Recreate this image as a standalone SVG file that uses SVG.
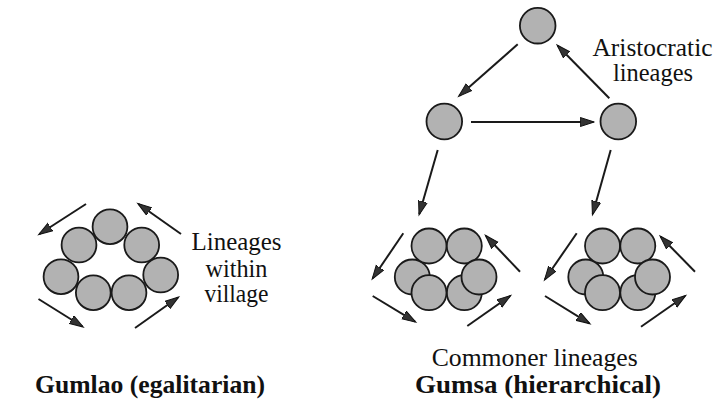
<svg xmlns="http://www.w3.org/2000/svg" width="717" height="407" viewBox="0 0 717 407">
<style>
.n{fill:#b2b2b2;stroke:#1a1a1a;stroke-width:1.8}
.c{stroke:#1a1a1a;stroke-width:2;fill:none;marker-end:url(#ah)}
.t{font-size:25px}
.b{font-size:25px;font-weight:bold}
</style>
<defs>
<marker id="ah" markerUnits="userSpaceOnUse" markerWidth="16" markerHeight="12" refX="13" refY="5" orient="auto">
<path d="M0,0.5 L14,5 L0,9.5 Z" fill="#333" stroke="#111" stroke-width="1"/>
</marker>
</defs>
<rect width="717" height="407" fill="#fff"/>
<g id="connectors">
<line class="c" x1="86" y1="204" x2="39.5" y2="234"/>
<line class="c" x1="181" y1="234" x2="138.5" y2="204"/>
<line class="c" x1="38.5" y1="299" x2="82.5" y2="326.5"/>
<line class="c" x1="135" y1="328" x2="178" y2="297.5"/>
<line class="c" x1="517.7" y1="44.3" x2="459.3" y2="95.7"/>
<line class="c" x1="471" y1="122" x2="593.3" y2="122"/>
<line class="c" x1="609.3" y1="98.3" x2="557.7" y2="45.7"/>
<line class="c" x1="437.7" y1="150" x2="419.3" y2="214"/>
<line class="c" x1="610.7" y1="150" x2="592.7" y2="214"/>
<line class="c" x1="403.3" y1="233.3" x2="372.7" y2="278.3"/>
<line class="c" x1="372.7" y1="296" x2="415" y2="321.7"/>
<line class="c" x1="467.3" y1="326" x2="510" y2="296"/>
<line class="c" x1="520" y1="271.7" x2="486" y2="236"/>
<line class="c" x1="576.7" y1="233.3" x2="545" y2="279.3"/>
<line class="c" x1="545" y1="296" x2="589.3" y2="323.3"/>
<line class="c" x1="641" y1="326.7" x2="685" y2="296"/>
<line class="c" x1="695" y1="271.7" x2="660.7" y2="236.7"/>
</g>
<g id="gumlao-lineages">
<circle class="n" cx="110" cy="226.7" r="17.4"/>
<circle class="n" cx="79" cy="245" r="17.4"/>
<circle class="n" cx="141.7" cy="245" r="17.4"/>
<circle class="n" cx="61" cy="276.7" r="17.4"/>
<circle class="n" cx="160.7" cy="275" r="17.4"/>
<circle class="n" cx="93.3" cy="292.7" r="17.4"/>
<circle class="n" cx="129" cy="292.7" r="17.4"/>
</g>
<g id="aristocrat-top"><circle class="n" cx="537.7" cy="25.7" r="17.8"/></g>
<g id="aristocrat-left"><circle class="n" cx="444.3" cy="121.5" r="17.8"/></g>
<g id="aristocrat-right"><circle class="n" cx="618.3" cy="121.5" r="17.8"/></g>
<g id="commoner-left">
<circle class="n" cx="412.3" cy="277" r="17.5"/>
<circle class="n" cx="429" cy="246" r="17.5"/>
<circle class="n" cx="464.3" cy="246" r="17.5"/>
<circle class="n" cx="464.3" cy="292.7" r="17.5"/>
<circle class="n" cx="429" cy="292.7" r="17.5"/>
<circle class="n" cx="479" cy="277" r="17.5"/>
</g>
<g id="commoner-right">
<circle class="n" cx="585.8" cy="277" r="17.5"/>
<circle class="n" cx="602.5" cy="246" r="17.5"/>
<circle class="n" cx="637.8" cy="246" r="17.5"/>
<circle class="n" cx="637.8" cy="292.7" r="17.5"/>
<circle class="n" cx="602.5" cy="292.7" r="17.5"/>
<circle class="n" cx="652.5" cy="277" r="17.5"/>
</g>
<g id="labels" font-family="Liberation Serif, serif" fill="#111" text-anchor="middle">
<text class="t" x="236.5" y="250" textLength="90" lengthAdjust="spacingAndGlyphs">Lineages</text>
<text class="t" x="236.5" y="276.5" textLength="62" lengthAdjust="spacingAndGlyphs">within</text>
<text class="t" x="236.5" y="302" textLength="64" lengthAdjust="spacingAndGlyphs">village</text>
<text class="t" x="652.5" y="56" textLength="120" lengthAdjust="spacingAndGlyphs">Aristocratic</text>
<text class="t" x="653" y="80.5" textLength="80" lengthAdjust="spacingAndGlyphs">lineages</text>
<text class="t" x="534.7" y="365.5" textLength="206" lengthAdjust="spacingAndGlyphs">Commoner lineages</text>
<text class="b" x="150" y="393" textLength="230" lengthAdjust="spacingAndGlyphs">Gumlao (egalitarian)</text>
<text class="b" x="538" y="393" textLength="246" lengthAdjust="spacingAndGlyphs">Gumsa (hierarchical)</text>
</g>
</svg>
